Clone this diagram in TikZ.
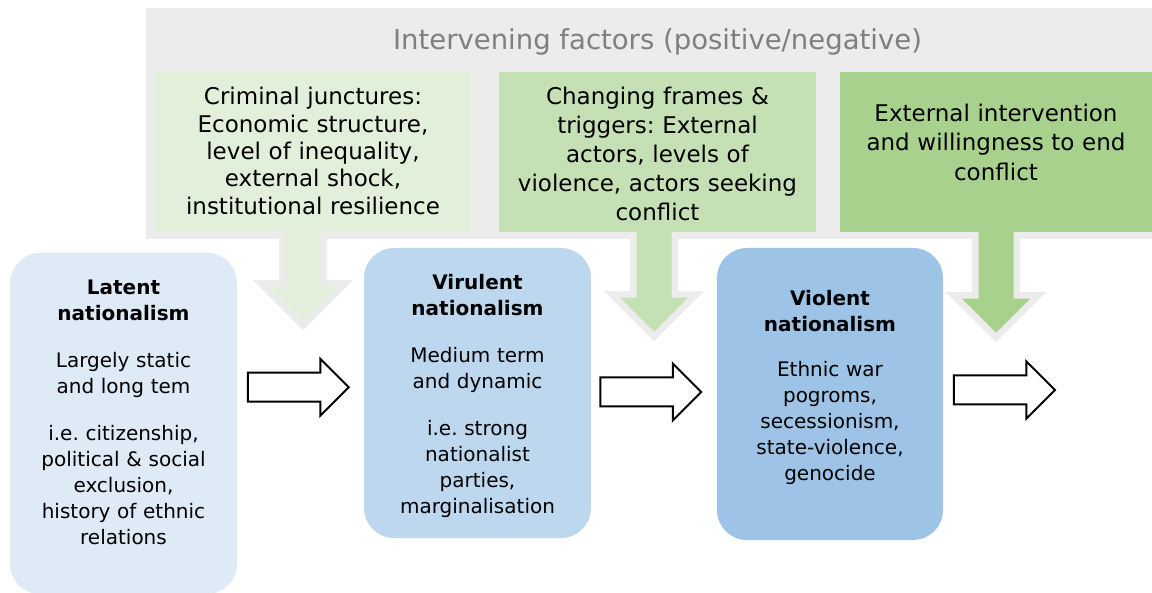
\documentclass[tikz,border=0pt]{standalone}
\usepackage{fontspec}
\setmainfont{DejaVu Sans}
\frenchspacing
\usetikzlibrary{positioning,calc,shapes.arrows}

\definecolor{factorgray}{HTML}{ECECEC}
\definecolor{titlegray}{HTML}{7F7F7F}
\definecolor{greenA}{HTML}{E2EFDA}
\definecolor{greenB}{HTML}{C5E0B4}
\definecolor{greenC}{HTML}{A9D18E}
\definecolor{blueA}{HTML}{DEEBF7}
\definecolor{blueB}{HTML}{BDD7EE}
\definecolor{blueC}{HTML}{9DC3E6}

\tikzset{
  factor/.style={rectangle, inner sep=0pt, minimum height=160pt},
  factortext/.style={inner sep=0pt, text width=312pt, align=center},
  stage/.style={rectangle, rounded corners=30pt, inner sep=0pt, minimum width=227pt},
  stagetext/.style={inner sep=0pt, text width=222pt, align=center, font=\fontsize{20}{26}\selectfont},
  droparrow/.style={single arrow, rotate=-90, anchor=tip, outer sep=0pt, draw=factorgray, line width=6.5pt,
    inner xsep=0pt, inner ysep=17.5pt, single arrow head extend=21.5pt},
  flowarrow/.style={single arrow, draw=black, line width=2pt, fill=white,
    inner xsep=0pt, inner ysep=13.5pt, single arrow head extend=14pt, minimum height=101pt}
}

\begin{document}
\begin{tikzpicture}[x=1pt,y=-1pt]
\useasboundingbox (0,0) rectangle (1152,593);

% Intervening factors band
\node[fill=factorgray, inner sep=0pt, minimum width=1006pt, minimum height=231pt, anchor=north west] (band) at (146,8) {};
\node[text=titlegray, font=\fontsize{27.5}{33}\selectfont, anchor=base] (title) at (657.5,50) {Intervening factors (positive/negative)};

% Arrows dropping from the factors
\node[droparrow, fill=greenA, minimum height=100.6pt] (drop1) at (303,325.6) {};
\node[droparrow, fill=greenB, minimum height=111.6pt] (drop2) at (654,336.6) {};
\node[droparrow, fill=greenC, minimum height=112.6pt] (drop3) at (996,337.6) {};

% The three factors
\node[factor, fill=greenA, minimum width=316pt] (junctures) at (313,152) {};
\node[factor, fill=greenB, minimum width=317pt] (frames) at (657.5,152) {};
\node[factor, fill=greenC, minimum width=312pt] (intervention) at (996,152) {};

\node[factortext, font=\fontsize{23}{27.3}\selectfont, below=15.5pt of junctures.north] (juncturestext)
  {Criminal junctures:\\ Economic structure,\\ level of inequality,\\ external shock,\\ institutional resilience};
\node[factortext, font=\fontsize{23}{28.8}\selectfont, below=15.5pt of frames.north] (framestext)
  {Changing frames \&\\ triggers: External\\ actors, levels of\\ violence, actors seeking\\ conflict};
\node[factortext, font=\fontsize{23}{29.5}\selectfont, below=32pt of intervention.north] (interventiontext)
  {External intervention\\ and willingness to end\\ conflict};

% Stages of nationalism
\node[stage, fill=blueA, minimum height=341pt] (latent) at (123.5,423.5) {};
\node[stage, fill=blueB, minimum height=290pt] (virulent) at (477.5,393) {};
\node[stage, fill=blueC, minimum height=292pt, minimum width=226pt] (violent) at (830,394) {};

\node[stagetext, below=26.8pt of latent.north] (latenttext)
  {\textbf{Latent}\\ \textbf{nationalism}\\[21pt] Largely static\\ and long tem\\[21pt]
   i.e. citizenship,\\ political \& social\\ exclusion,\\ history of ethnic\\ relations};
\node[stagetext, below=26.8pt of virulent.north] (virulenttext)
  {\textbf{Virulent}\\ \textbf{nationalism}\\[21pt] Medium term\\ and dynamic\\[21pt]
   i.e. strong\\ nationalist\\ parties,\\ marginalisation};
\node[stagetext, below=42.3pt of violent.north] (violenttext)
  {\textbf{Violent}\\ \textbf{nationalism}\\[19pt] Ethnic war\\ pogroms,\\ secessionism,\\ state-violence,\\ genocide};

% Block arrows between the stages
\node[flowarrow] (flow1) at ($(latent.east)!0.5!(virulent.west)+(-9.5,-21)$) {};
\node[flowarrow] (flow2) at ($(virulent.east)!0.5!(violent.west)+(-10.5,-1.5)$) {};
\node[flowarrow] (flow3) at ($(violent.east)+(54,-4)$) {};

\end{tikzpicture}
\end{document}
